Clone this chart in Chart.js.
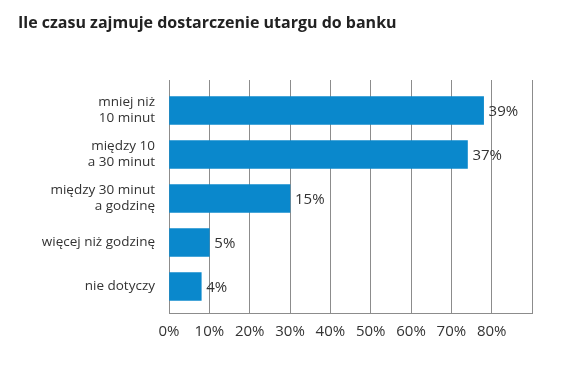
<!DOCTYPE html>
<html><head><meta charset="utf-8">
<script src="https://cdn.jsdelivr.net/npm/chart.js@4/dist/chart.umd.min.js"></script>
<style>html,body{margin:0;padding:0;background:#fff}</style>
</head><body>
<canvas id="c" width="568" height="365"></canvas>
<script>
const title = 'Ile czasu zajmuje dostarczenie utargu do banku';
const categories = [['mniej niż','10 minut'], ['między 10','a 30 minut'], ['między 30 minut','a godzinę'], 'więcej niż godzinę', 'nie dotyczy'];
const values = [39, 37, 15, 5, 4];
const valueLabels = ['39%', '37%', '15%', '5%', '4%'];
const xTickLabels = ['0%','10%','20%','30%','40%','50%','60%','70%','80%',''];

const FONT = '"Open Sans", "Noto Sans", sans-serif';
const GRID = '#8c8c8c';

const valueLabelPlugin = {
  id: 'valueLabels',
  afterDatasetsDraw(chart) {
    const ctx = chart.ctx;
    const meta = chart.getDatasetMeta(0);
    ctx.save();
    ctx.font = '15px ' + FONT;
    ctx.fillStyle = '#333';
    ctx.textAlign = 'left';
    ctx.textBaseline = 'middle';
    meta.data.forEach((bar, i) => {
      ctx.fillText(valueLabels[i], bar.x + 5, bar.y + 1);
    });
    ctx.restore();
  }
};

new Chart(document.getElementById('c'), {
  type: 'bar',
  data: {
    datasets: [{
      data: values.map((v, i) => ({x: v, y: i})),
      backgroundColor: '#0a88cc',
      borderWidth: 0,
      barThickness: 28
    }]
  },
  options: {
    indexAxis: 'y',
    responsive: false,
    animation: false,
    devicePixelRatio: 1,
    layout: {padding: {left: 18, right: 36, top: 0, bottom: 0}},
    plugins: {
      legend: {display: false},
      tooltip: {enabled: false},
      title: {
        display: true,
        text: title,
        align: 'start',
        color: '#222',
        font: {family: FONT, size: 16, weight: 'bold', lineHeight: 1.2},
        padding: {top: 14, bottom: 46.8}
      }
    },
    scales: {
      x: {
        type: 'linear',
        position: 'bottom',
        min: 0, max: 45,
        ticks: {
          stepSize: 5,
          padding: 9,
          color: '#333',
          font: {family: FONT, size: 15},
          callback: (v, i) => xTickLabels[i]
        },
        grid: {color: GRID, lineWidth: 1, drawTicks: false},
        border: {display: true, color: GRID, width: 1},
        afterFit: s => { s.height = 51.5; }
      },
      y: {
        type: 'linear',
        reverse: true,
        offset: false,
        min: -0.693, max: 4.614,
        afterBuildTicks: s => { s.ticks = categories.map((c, i) => ({value: i})); },
        ticks: {
          padding: 14,
          color: '#333',
          font: {family: FONT, size: 13.5, lineHeight: 1.2},
          callback: v => categories[v]
        },
        grid: {display: false, drawTicks: false},
        border: {display: true, color: GRID, width: 1},
        afterFit: s => { s.width = 151; }
      }
    }
  },
  plugins: [valueLabelPlugin]
});
</script>
</body></html>
